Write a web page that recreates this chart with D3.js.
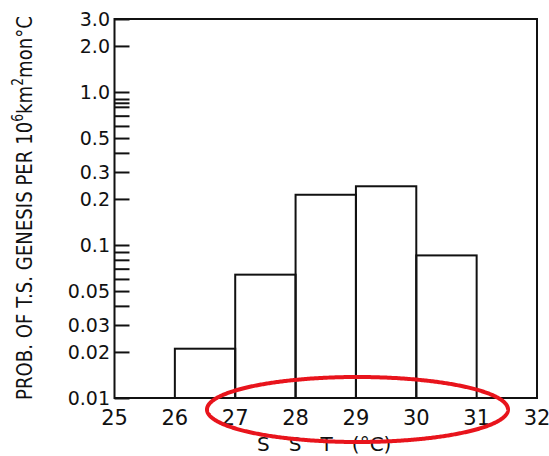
<!DOCTYPE html>
<html>
<head>
<meta charset="utf-8">
<script src="https://cdn.jsdelivr.net/npm/d3@7"></script>
<style>
  body { margin: 0; background: #fff; }
  text { font-family: "DejaVu Sans", sans-serif; fill: #111; }
</style>
</head>
<body>
<script>
// data
const binStart = [26, 27, 28, 29, 30];
const binEnd = [27, 28, 29, 30, 31];
const probs = [0.021, 0.064, 0.213, 0.242, 0.0855];

const xTicks = [25, 26, 27, 28, 29, 30, 31, 32];
const yTicks = [3.0, 2.0, 1.0, 0.5, 0.3, 0.2, 0.1, 0.05, 0.03, 0.02, 0.01];
const yTickLabels = ["3.0", "2.0", "1.0", "0.5", "0.3", "0.2", "0.1", "0.05", "0.03", "0.02", "0.01"];
const yMinor = [0.9, 0.85, 0.8, 0.7, 0.6, 0.4, 0.09, 0.08, 0.07, 0.06, 0.04];

const width = 549;
const height = 456;
const margin = { top: 19, right: 12, bottom: 58, left: 114.5 };

const svg = d3
  .select("body")
  .append("svg")
  .attr("width", width)
  .attr("height", height);

const x = d3
  .scaleLinear()
  .domain([25, 32])
  .range([margin.left, width - margin.right]);

const y = d3
  .scaleLog()
  .domain([0.01, 3.0])
  .range([height - margin.bottom, margin.top]);

// bars
svg
  .selectAll("rect.bar")
  .data(probs)
  .join("rect")
  .attr("class", "bar")
  .attr("x", (d, i) => x(binStart[i]))
  .attr("width", (d, i) => x(binEnd[i]) - x(binStart[i]))
  .attr("y", (d) => y(d))
  .attr("height", (d) => y(0.01) - y(d))
  .attr("fill", "none")
  .attr("stroke", "#111")
  .attr("stroke-width", 2);

// frame
svg
  .append("rect")
  .attr("x", x(25))
  .attr("y", y(3.0))
  .attr("width", x(32) - x(25))
  .attr("height", y(0.01) - y(3.0))
  .attr("fill", "none")
  .attr("stroke", "#111")
  .attr("stroke-width", 2);

// y axis, ticks pointing inward
const yAxis = d3
  .axisRight(y)
  .tickValues(yTicks.concat(yMinor))
  .tickSize(15)
  .tickFormat("");

const yg = svg
  .append("g")
  .attr("transform", `translate(${x(25)},0)`)
  .call(yAxis);
yg.select(".domain").remove();
yg.selectAll(".tick line").attr("stroke", "#111").attr("stroke-width", 2);

svg
  .append("g")
  .selectAll("text")
  .data(yTicks)
  .join("text")
  .attr("x", 110)
  .attr("y", (d) => y(d))
  .attr("dy", "0.36em")
  .attr("text-anchor", "end")
  .attr("font-size", 19)
  .text((d, i) => yTickLabels[i]);

// x labels
svg
  .append("g")
  .selectAll("text")
  .data(xTicks)
  .join("text")
  .attr("x", (d) => x(d))
  .attr("y", 425)
  .attr("text-anchor", "middle")
  .attr("font-size", 21)
  .text((d) => d);

// x title
svg
  .append("text")
  .attr("x", 257)
  .attr("y", 451)
  .attr("font-size", 20)
  .style("white-space", "pre")
  .text("S   S   T   (°C)");

// y title
const yTitle = svg
  .append("text")
  .attr("transform", "translate(32,400) rotate(-90)")
  .attr("font-size", 22)
  .attr("textLength", 384)
  .attr("lengthAdjust", "spacingAndGlyphs");
yTitle.append("tspan").text("PROB. OF T.S. GENESIS PER 10");
yTitle.append("tspan").attr("dy", -9).attr("font-size", 15).text("6");
yTitle.append("tspan").attr("dy", 9).text("km");
yTitle.append("tspan").attr("dy", -9).attr("font-size", 15).text("2");
yTitle.append("tspan").attr("dy", 9).text("mon°C");

// red hand-drawn ellipse annotation (with a small break at the bottom)
const cx = 357.5, cy = 409.5, rx = 150.5, ry = 32.5;
const a0 = Math.PI / 2 + 0.005;
const a1 = Math.PI / 2 + 0.063 + 2 * Math.PI;
const pts = d3.range(a0, a1, 0.01).map((a) => [cx + rx * Math.cos(a), cy + ry * Math.sin(a)]);
svg
  .append("path")
  .attr("d", d3.line()(pts))
  .attr("fill", "none")
  .attr("stroke", "#e8141c")
  .attr("stroke-width", 4);
</script>
</body>
</html>
